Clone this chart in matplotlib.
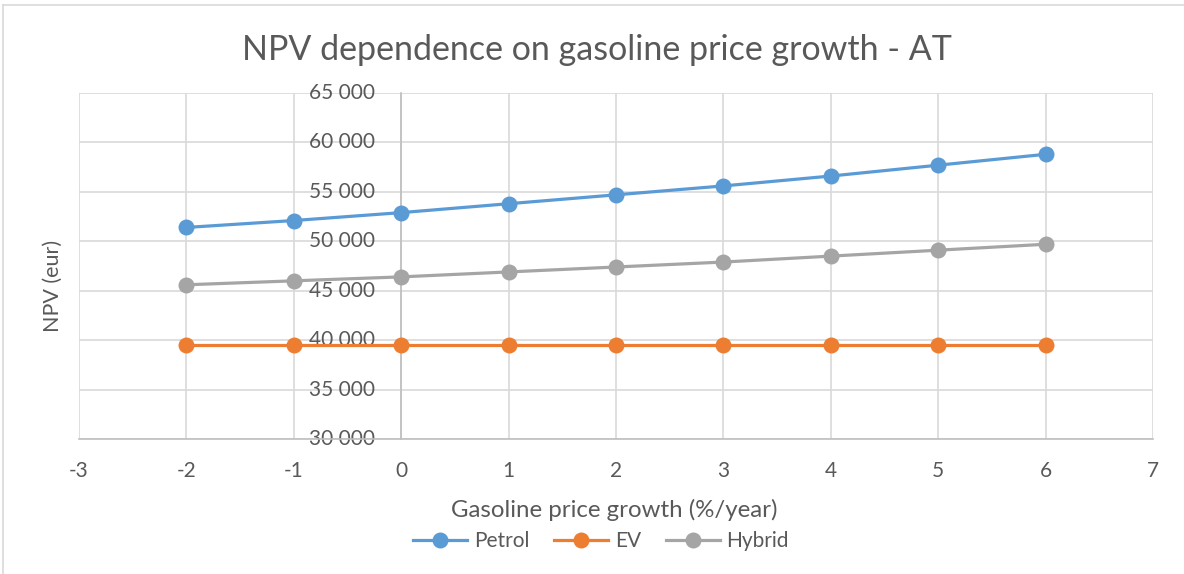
import matplotlib
matplotlib.use("Agg")
import matplotlib.pyplot as plt
from matplotlib.ticker import FuncFormatter, MultipleLocator
from matplotlib.lines import Line2D

# ── Data ──────────────────────────────────────────────────────────────────────
growth = [-2, -1, 0, 1, 2, 3, 4, 5, 6]
petrol = [51400, 52100, 52900, 53800, 54700, 55600, 56600, 57700, 58800]
ev     = [39500, 39500, 39500, 39500, 39500, 39500, 39500, 39500, 39500]
hybrid = [45600, 46000, 46400, 46900, 47400, 47900, 48500, 49100, 49700]

series = [("Petrol", petrol, "#5B9BD5"),
          ("EV", ev, "#ED7D31"),
          ("Hybrid", hybrid, "#A5A5A5")]

plt.rcParams["font.family"] = ["Lato", "DejaVu Sans"]
TXT = "#595959"
W, H = 1184, 574

fig = plt.figure(figsize=(W / 100, H / 100), dpi=100, facecolor="white")
ax = fig.add_axes([79 / W, 1 - 439 / H, (1153 - 79) / W, (439 - 93) / H])

for name, vals, col in series:
    ax.plot(growth, vals, color=col, lw=2.3, marker="o", markersize=11.5,
            markeredgewidth=0, label=name, zorder=3, clip_on=False)

ax.set_xlim(-3, 7)
ax.set_ylim(30000, 65000)
ax.xaxis.set_major_locator(MultipleLocator(1))
ax.yaxis.set_major_locator(MultipleLocator(5000))
ax.yaxis.set_major_formatter(FuncFormatter(lambda v, _: f"{v:,.0f}".replace(",", " ")))
ax.xaxis.set_major_formatter(FuncFormatter(lambda v, _: f"{v:.0f}"))

ax.grid(True, color="#D9D9D9", lw=1.2, zorder=0)
ax.set_axisbelow(True)

for s in ["top", "right"]:
    ax.spines[s].set_visible(False)
ax.spines["left"].set_position(("data", 0))
ax.spines["left"].set_color("#BFBFBF")
ax.spines["left"].set_linewidth(1.2)
ax.spines["bottom"].set_color("#BFBFBF")
ax.spines["bottom"].set_linewidth(1.2)

ax.tick_params(axis="y", length=0, pad=19, labelsize=15, labelcolor=TXT)
ax.tick_params(axis="x", length=0, pad=16, labelsize=15, labelcolor=TXT)
for lbl in ax.get_yticklabels():
    lbl.set_verticalalignment("center")

# ── Texts ─────────────────────────────────────────────────────────────────────
fig.text(597 / W, 1 - 50 / H, "NPV dependence on gasoline price growth - AT",
         ha="center", va="center", fontsize=24.5, color=TXT)
fig.text(614 / W, 1 - 510 / H, "Gasoline price growth (%/year)",
         ha="center", va="center", fontsize=17.3, color=TXT)
fig.text(53 / W, 1 - 286 / H, "NPV (eur)", rotation=90,
         ha="center", va="center", fontsize=15.5, color=TXT)

handles = [Line2D([], [], color=c, lw=2.3, marker="o", markersize=11.5,
                  markeredgewidth=0) for _, _, c in series]
fig.legend(handles, [n for n, _, _ in series], loc="center",
           bbox_to_anchor=(601 / W, 1 - 541 / H), ncol=3, frameon=False,
           fontsize=15, labelcolor=TXT, handlelength=2.6, handletextpad=0.3,
           columnspacing=1.2)

# chart border
fig.add_artist(Line2D([3 / W, 3 / W], [0, 1 - 5 / H], color="#D9D9D9", lw=1.2))
fig.add_artist(Line2D([3 / W, 1], [1 - 5 / H, 1 - 5 / H], color="#D9D9D9", lw=1.2))

fig.savefig("out.png", dpi=100, facecolor="white")
